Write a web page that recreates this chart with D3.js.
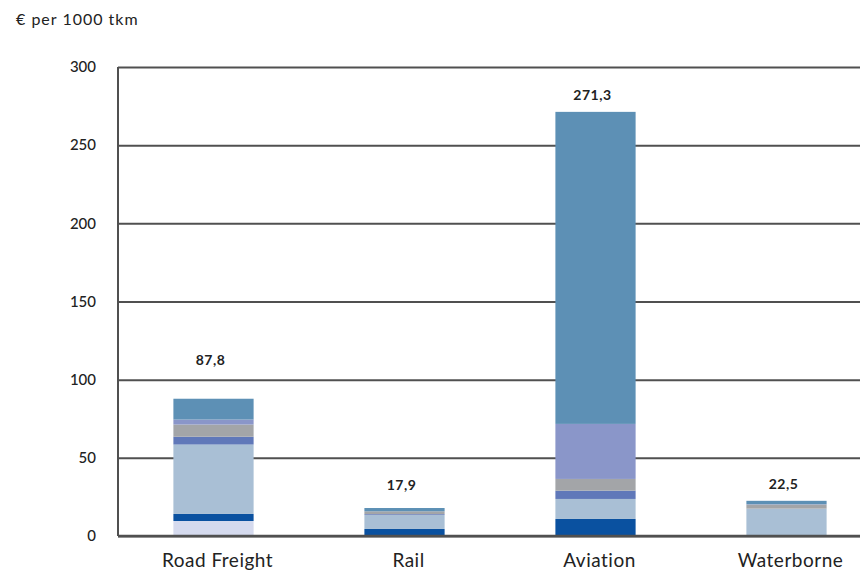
<!DOCTYPE html>
<html>
<head>
<meta charset="utf-8">
<script src="https://cdn.jsdelivr.net/npm/d3@7"></script>
<style>
  body { margin: 0; background: #fff; }
  svg text { font-family: Lato, "Open Sans", sans-serif; fill: #222; }
</style>
</head>
<body>
<svg id="chart" width="860" height="572"></svg>
<script>
// categories and totals
var modes = ["Road Freight", "Rail", "Aviation", "Waterborne"];
var totals = [87.8, 17.9, 271.3, 22.5];
var totalLabels = ["87,8", "17,9", "271,3", "22,5"];
var yTicks = [0, 50, 100, 150, 200, 250, 300];

// stacked components, bottom to top
var compA = [9.6, 0, 0, 0];
var compB = [4.5, 4.5, 10.9, 0];
var compC = [44.4, 9.0, 12.8, 17.5];
var compD = [5.0, 0.5, 5.3, 0];
var compE = [7.8, 1.8, 7.5, 2.6];
var compF = [3.2, 0, 35.2, 0.2];
var compG = [13.3, 2.1, 199.6, 2.2];

var keys = ["a", "b", "c", "d", "e", "f", "g"];
var colors = ["#d5daee", "#0a51a0", "#a9bfd5", "#6078b9", "#a3a5a8", "#8a96c9", "#5d90b5"];

// extra lift of each total label above its bar
var labelLift = [34, 18, 12, 12];

var rows = modes.map(function(m, i){
    return {mode: m, a: compA[i], b: compB[i], c: compC[i], d: compD[i],
            e: compE[i], f: compF[i], g: compG[i]};
});

var svg = d3.select("#chart");
var plotLeft = 118, plotRight = 882, plotTop = 67, plotBottom = 536;

var x = d3.scaleBand()
    .domain(modes)
    .range([plotLeft, plotRight])
    .paddingInner(0.58)
    .paddingOuter(0.29);

var y = d3.scaleLinear()
    .domain([0, 300])
    .range([plotBottom, plotTop]);

// gridlines
var yAxis = d3.axisLeft(y)
    .tickValues(yTicks)
    .tickSize(-(860 - plotLeft))
    .tickFormat(function(d){ return d; });

var gy = svg.append("g")
    .attr("transform", "translate(" + plotLeft + ",0)")
    .call(yAxis);
gy.select(".domain").remove();
gy.selectAll(".tick line")
    .attr("stroke", "#505050")
    .attr("stroke-width", 2);
gy.selectAll(".tick text")
    .attr("x", -22)
    .style("font-size", "15px")
    .style("font-weight", "500")
    .attr("fill", "#333");

// vertical axis line
svg.append("line")
    .attr("x1", plotLeft).attr("x2", plotLeft)
    .attr("y1", y(300)).attr("y2", y(0))
    .attr("stroke", "#505050")
    .attr("stroke-width", 2);

// stacked bars
var stack = d3.stack().keys(keys);
var series = stack(rows);

svg.append("g").selectAll("g")
    .data(series)
    .enter().append("g")
    .attr("fill", function(d, i){ return colors[i]; })
    .selectAll("rect")
    .data(function(d){ return d; })
    .enter().append("rect")
    .attr("x", function(d){ return x(d.data.mode); })
    .attr("width", x.bandwidth())
    .attr("y", function(d){ return y(d[1]); })
    .attr("height", function(d){ return y(d[0]) - y(d[1]); });

// baseline over the bars
svg.append("line")
    .attr("x1", plotLeft).attr("x2", 860)
    .attr("y1", y(0)).attr("y2", y(0))
    .attr("stroke", "#505050")
    .attr("stroke-width", 2.5);

// total labels
svg.append("g").selectAll("text")
    .data(modes)
    .enter().append("text")
    .attr("x", function(d){ return x(d) + x.bandwidth()/2 - 3; })
    .attr("y", function(d, i){ return y(totals[i]) - labelLift[i]; })
    .attr("text-anchor", "middle")
    .style("font-size", "14px")
    .style("font-weight", "bold")
    .style("letter-spacing", "0.5px")
    .text(function(d, i){ return totalLabels[i]; });

// category labels
svg.append("g").selectAll("text")
    .data(modes)
    .enter().append("text")
    .attr("x", function(d){ return x(d) + x.bandwidth()/2 + 4; })
    .attr("y", 567)
    .attr("text-anchor", "middle")
    .style("font-size", "19px")
    .style("letter-spacing", "0.5px")
    .text(function(d){ return d; });

// unit title
svg.append("text")
    .attr("x", 16)
    .attr("y", 25)
    .style("font-size", "16px")
    .style("letter-spacing", "1px")
    .text("€ per 1000 tkm");
</script>
</body>
</html>
